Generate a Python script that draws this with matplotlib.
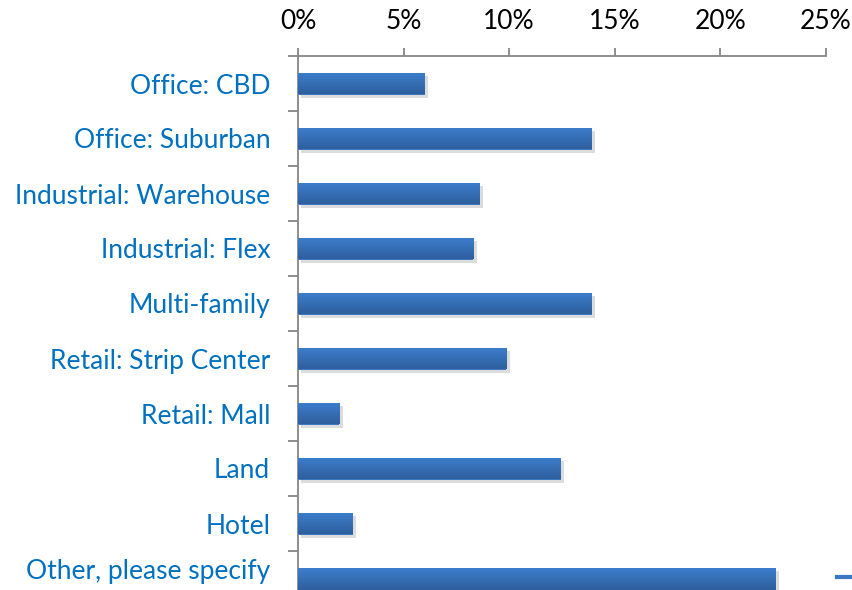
import matplotlib
matplotlib.use("Agg")
import matplotlib.pyplot as plt
import matplotlib.patheffects as pe
from matplotlib.lines import Line2D
from matplotlib.ticker import FuncFormatter
from matplotlib.transforms import ScaledTranslation
import numpy as np

categories = [
    "Office: CBD",
    "Office: Suburban",
    "Industrial: Warehouse",
    "Industrial: Flex",
    "Multi-family",
    "Retail: Strip Center",
    "Retail: Mall",
    "Land",
    "Hotel",
    "Other, please specify",
]
shares = [6.0, 13.9, 8.6, 8.3, 13.9, 9.85, 1.95, 12.45, 2.6, 22.6]
x_ticks = [0, 5, 10, 15, 20, 25]

label_blue = "#0070C0"
axis_gray = "#868686"

plt.rcParams["font.family"] = ["Lato", "DejaVu Sans"]

fig = plt.figure(figsize=(8.52, 5.9), dpi=100)
W, H = 852, 590
ax = fig.add_axes([298 / W, 1 - 606 / H, (826 - 298) / W, (606 - 56) / H])

y = np.arange(len(categories))
bars = ax.barh(y, shares, height=0.4, color="#3A78C4", zorder=2,
               path_effects=[pe.SimplePatchShadow(offset=(2.5, -2.5), shadow_rgbFace="#8c8c8c", alpha=0.3),
                             pe.Normal()])

# vertical gradient inside each bar, like the Excel style
grad = np.linspace(0, 1, 64).reshape(-1, 1)
cmap = matplotlib.colors.LinearSegmentedColormap.from_list("bar", ["#3C7ECD", "#2F5F9E"])
for b in bars:
    x0, y0, w, h = b.get_x(), b.get_y(), b.get_width(), b.get_height()
    im = ax.imshow(grad, cmap=cmap, aspect="auto", extent=(x0, x0 + w, y0 + h, y0),
                   zorder=3, interpolation="bicubic")
    im.set_clip_path(b)

ax.set_xlim(0, 25)
ax.set_ylim(len(categories) - 0.5, -0.5)

ax.xaxis.tick_top()
ax.set_xticks(x_ticks)
ax.xaxis.set_major_formatter(FuncFormatter(lambda v, p: f"{v:.0f}%"))
ax.tick_params(axis="x", which="major", length=6, width=1.3, color=axis_gray,
               labelsize=19, labelcolor="black", pad=10, direction="out")

# category ticks sit between bars, labels at bar centres
ax.set_yticks(np.arange(len(categories) + 1) - 0.5)
ax.set_yticklabels([])
ax.set_yticks(y, minor=True)
ax.set_yticklabels(categories, minor=True)
ax.tick_params(axis="y", which="major", length=7, width=1.3, color=axis_gray, direction="out")
ax.tick_params(axis="y", which="minor", length=0, labelsize=19, labelcolor=label_blue, pad=20)

# last label is nudged up so it stays inside the picture
last = ax.yaxis.get_minor_ticks()[-1].label1
last.set_transform(last.get_transform() + ScaledTranslation(0, 10 / 100, fig.dpi_scale_trans))

for s in ["right", "bottom"]:
    ax.spines[s].set_visible(False)
for s in ["top", "left"]:
    ax.spines[s].set_color(axis_gray)
    ax.spines[s].set_linewidth(1.3)

# legend remnant at the bottom right
fig.legend(handles=[Line2D([], [], color="#3A78C4", lw=3)], labels=[""],
           loc="center left", bbox_to_anchor=(837 / W, 1 - 578 / H), frameon=False,
           borderpad=0, borderaxespad=0, handlelength=1.2, handletextpad=0, fontsize=12)

fig.savefig("out.png", dpi=100)
